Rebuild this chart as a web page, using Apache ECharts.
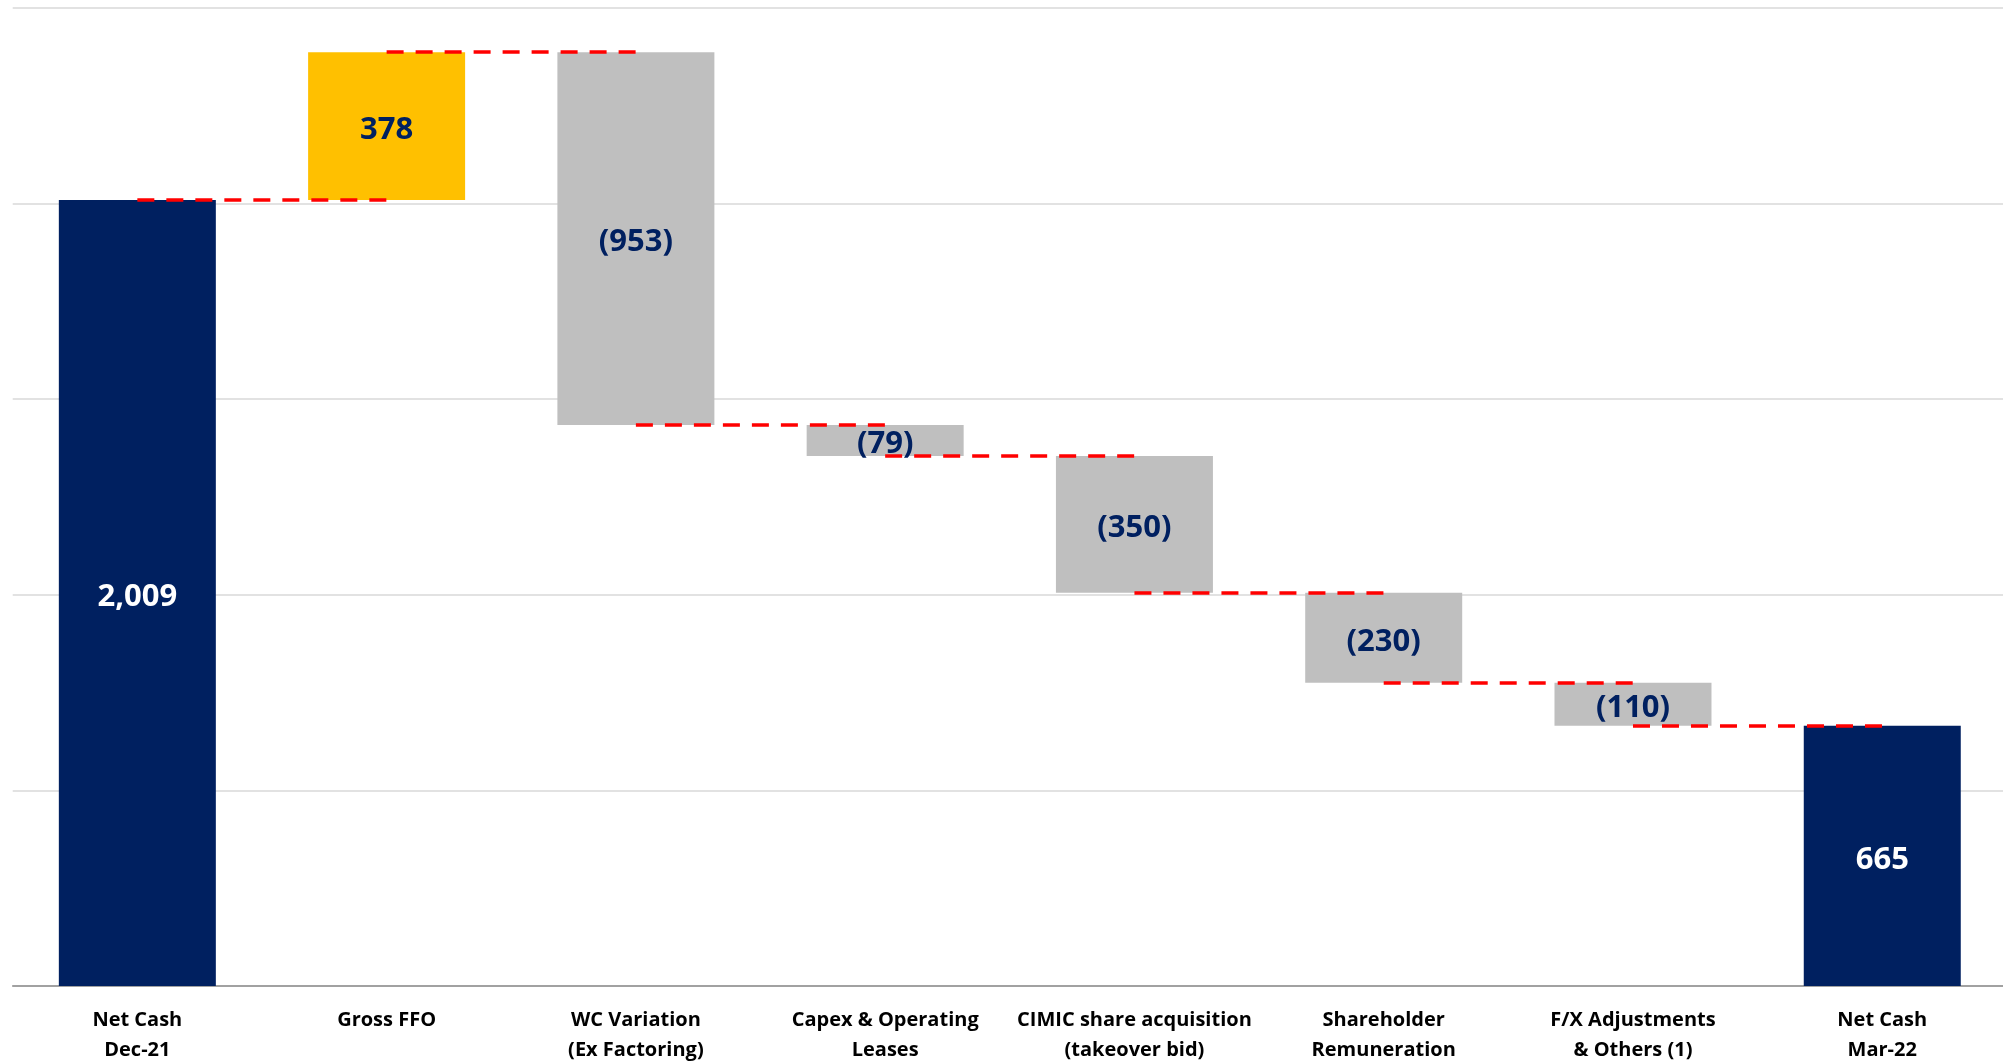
<!DOCTYPE html>
<html>
<head>
<meta charset="utf-8">
<script src="https://cdn.jsdelivr.net/npm/echarts@6/dist/echarts.min.js"></script>
<style>
  html, body { margin: 0; padding: 0; background: #fff; }
  #chart { width: 2003px; height: 1061px; }
</style>
</head>
<body>
<div id="chart"></div>
<script>
// categories of the cash bridge
var categories = [
    'Net Cash\nDec-21',
    'Gross FFO',
    'WC Variation\n(Ex Factoring)',
    'Capex & Operating\nLeases',
    'CIMIC share acquisition\n(takeover bid)',
    'Shareholder\nRemuneration',
    'F/X Adjustments\n& Others (1)',
    'Net Cash\nMar-22'
];
// values (totals first/last, movements in between)
var values = [2009, 378, -953, -79, -350, -230, -110, 665];
var isTotal = [true, false, false, false, false, false, false, true];

var NAVY = '#002060', GOLD = '#FFC000', GREY = '#BFBFBF';

// invisible base + visible part for every bar
var baseData = [];
var barData = [];
var levels = []; // level after each bar, used for connectors
var level = 0;
for (var i = 0; i < values.length; i++) {
    var v = values[i];
    var color, labelColor;
    if (isTotal[i]) {
        level = v;
        baseData.push(0);
        barData.push(v);
        color = NAVY; labelColor = '#fff';
    } else if (v >= 0) {
        baseData.push(level);
        barData.push(v);
        level += v;
        color = GOLD; labelColor = NAVY;
    } else {
        level += v;
        baseData.push(level);
        barData.push(-v);
        color = GREY; labelColor = NAVY;
    }
    levels.push(level);
    barData[i] = {
        value: barData[i],
        itemStyle: { color: color },
        label: { color: labelColor }
    };
}

// dashed connectors between consecutive bars
var connectors = [];
for (var i = 0; i < values.length - 1; i++) {
    connectors.push([
        { coord: [i, levels[i]] },
        { coord: [i + 1, levels[i]] }
    ]);
}

function fmt(v) {
    var s = Math.abs(v).toLocaleString('en-US');
    return v < 0 ? '(' + s + ')' : s;
}

var chart = echarts.init(document.getElementById('chart'));
var option = {
    backgroundColor: '#fff',
    animation: false,
    grid: { left: 12.7, right: -3.9, top: 8, bottom: 75, outerBoundsMode: 'none' },
    xAxis: {
        type: 'category',
        data: categories,
        axisTick: { show: false },
        axisLine: { lineStyle: { color: '#8c8c8c', width: 1.5 } },
        axisLabel: {
            interval: 0,
            margin: 19,
            color: '#000',
            fontFamily: 'Open Sans',
            fontWeight: 'bold',
            fontSize: 20,
            lineHeight: 30
        }
    },
    yAxis: {
        type: 'value',
        min: 0,
        max: 2500,
        interval: 500,
        axisLabel: { show: false },
        axisLine: { show: false },
        axisTick: { show: false },
        splitLine: { lineStyle: { color: '#d9d9d9', width: 1.5 } }
    },
    series: [
        {
            name: 'base',
            type: 'bar',
            stack: 'wf',
            barWidth: 157,
            silent: true,
            itemStyle: { color: 'transparent' },
            data: baseData
        },
        {
            name: 'value',
            type: 'bar',
            stack: 'wf',
            barWidth: 157,
            data: barData,
            label: {
                show: true,
                position: 'inside',
                offset: [0, 4],
                fontFamily: 'Open Sans',
                fontWeight: 'bold',
                fontSize: 31,
                formatter: function (p) { return fmt(values[p.dataIndex]); }
            },
            markLine: {
                silent: true,
                symbol: ['none', 'none'],
                label: { show: false },
                lineStyle: { color: '#ff0000', width: 3.5, type: [17, 12] },
                emphasis: { disabled: true },
                data: connectors
            }
        }
    ]
};
chart.setOption(option);
</script>
</body>
</html>
